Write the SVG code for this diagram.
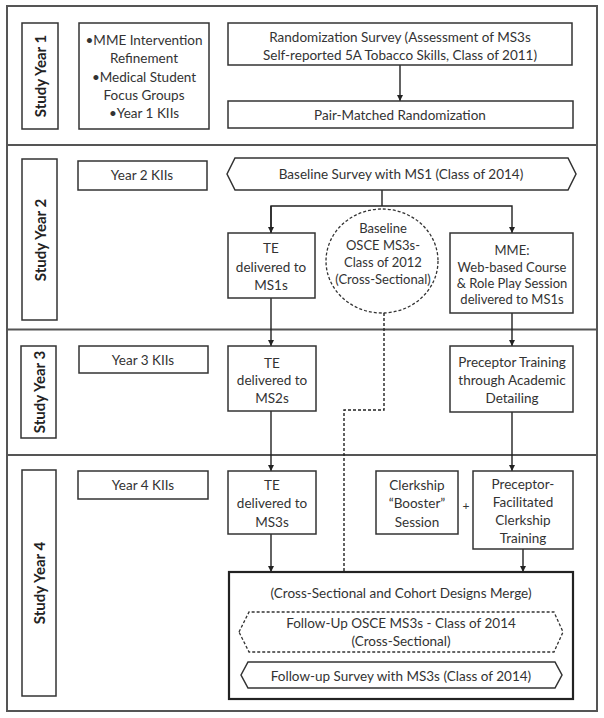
<svg xmlns="http://www.w3.org/2000/svg" width="604" height="718" viewBox="0 0 604 718">
<defs>
<marker id="ah" viewBox="0 0 10 10" refX="10" refY="5" markerWidth="6" markerHeight="6" orient="auto" markerUnits="userSpaceOnUse">
<path d="M0,0 L10,5 L0,10 z" fill="#222"/>
</marker>
<style>
.frame{fill:none;stroke:#555;stroke-width:2}
.div{stroke:#555;stroke-width:2}
.box{fill:#fff;stroke:#333;stroke-width:1.5}
.dbox{fill:#fff;stroke:#333;stroke-width:1.3;stroke-dasharray:3,2}
.merge{fill:#fff;stroke:#222;stroke-width:2.2}
.t{font-family:Lato,"Open Sans","Liberation Sans",sans-serif;font-size:13.5px;fill:#333;text-anchor:middle;dominant-baseline:central}
.s{font-size:13px}
.lab{font-family:Lato,"Open Sans","Liberation Sans",sans-serif;font-size:15px;font-weight:bold;fill:#222;text-anchor:middle;dominant-baseline:central}
.c{fill:none;stroke:#222;stroke-width:1.4}
.cd{fill:none;stroke:#222;stroke-width:1.4;stroke-dasharray:3,2}
</style>
</defs>
<rect class="frame" x="7" y="6" width="590" height="705"/>
<line class="div" x1="7" y1="145" x2="597" y2="145"/>
<line class="div" x1="7" y1="329.5" x2="597" y2="329.5"/>
<line class="div" x1="7" y1="455" x2="597" y2="455"/>

<g id="connectors">
<line class="c" x1="400" y1="65" x2="400" y2="101" marker-end="url(#ah)"/>
<polyline class="c" points="382,190 382,206"/>
<polyline class="c" points="271,233 271,206 512,206 512,233" marker-end="url(#ah)"/>
<line class="c" x1="271" y1="206" x2="271" y2="233" marker-end="url(#ah)"/>
<line class="c" x1="271" y1="298" x2="271" y2="346" marker-end="url(#ah)"/>
<line class="c" x1="271" y1="411" x2="271" y2="471" marker-end="url(#ah)"/>
<line class="c" x1="271" y1="534" x2="271" y2="572" marker-end="url(#ah)"/>
<line class="c" x1="512" y1="313" x2="512" y2="346" marker-end="url(#ah)"/>
<line class="c" x1="512" y1="412" x2="512" y2="471" marker-end="url(#ah)"/>
<line class="c" x1="523" y1="549" x2="523" y2="572" marker-end="url(#ah)"/>
<polyline class="cd" points="384,313 384,410 344,410 344,572"/>
</g>

<g id="year1-label"><rect class="box" x="22" y="23" width="36" height="106"/><text class="lab" transform="translate(40,76) rotate(-90)">Study Year 1</text></g>
<g id="year1-bullets"><rect class="box" x="79" y="23" width="130" height="106"/>
<text class="t" x="144" y="40">•MME Intervention</text>
<text class="t" x="144" y="58">Refinement</text>
<text class="t" x="144" y="77">•Medical Student</text>
<text class="t" x="144" y="95">Focus Groups</text>
<text class="t" x="144" y="113">•Year 1 KIIs</text></g>
<g id="rand-survey"><rect class="box" x="228" y="23" width="344" height="42"/>
<text class="t" x="400" y="37">Randomization Survey (Assessment of MS3s</text>
<text class="t" x="400" y="55">Self-reported 5A Tobacco Skills, Class of 2011)</text></g>
<g id="pair-matched"><rect class="box" x="228" y="101" width="345" height="27"/>
<text class="t" x="400" y="115">Pair-Matched Randomization</text></g>

<g id="year2-label"><rect class="box" x="22" y="159" width="35" height="161"/><text class="lab" transform="translate(39.5,240) rotate(-90)">Study Year 2</text></g>
<g id="year2-kii"><rect class="box" x="78" y="161" width="129" height="29"/><text class="t" x="142" y="175">Year 2 KIIs</text></g>
<g id="baseline-survey"><polygon class="box" points="227,174 235,158 568,158 576,174 568,190 235,190"/>
<text class="t" x="401" y="174">Baseline Survey with MS1 (Class of 2014)</text></g>
<g id="te-ms1"><rect class="box" x="228" y="233" width="87" height="65"/>
<text class="t" x="271" y="248">TE</text><text class="t" x="271" y="267">delivered to</text><text class="t" x="271" y="285">MS1s</text></g>
<g id="baseline-osce"><ellipse class="dbox" cx="382" cy="261" rx="56" ry="52"/>
<text class="t s" x="383" y="228">Baseline</text><text class="t s" x="383" y="245">OSCE MS3s-</text><text class="t s" x="383" y="262">Class of 2012</text><text class="t s" x="383" y="279">(Cross-Sectional)</text></g>
<g id="mme"><rect class="box" x="450" y="233" width="123" height="80"/>
<text class="t s" x="512" y="250">MME:</text><text class="t s" x="512" y="267">Web-based Course</text><text class="t s" x="512" y="283">&amp; Role Play Session</text><text class="t s" x="512" y="299">delivered to MS1s</text></g>

<g id="year3-label"><rect class="box" x="21" y="346" width="35" height="92"/><text class="lab" transform="translate(38.5,392) rotate(-90)">Study Year 3</text></g>
<g id="year3-kii"><rect class="box" x="79" y="346" width="129" height="27"/><text class="t" x="143" y="360">Year 3 KIIs</text></g>
<g id="te-ms2"><rect class="box" x="228" y="346" width="88" height="65"/>
<text class="t" x="272" y="363">TE</text><text class="t" x="272" y="380">delivered to</text><text class="t" x="272" y="398">MS2s</text></g>
<g id="preceptor-training"><rect class="box" x="450" y="346" width="123" height="66"/>
<text class="t" x="512" y="362">Preceptor Training</text><text class="t" x="512" y="380">through Academic</text><text class="t" x="512" y="398">Detailing</text></g>

<g id="year4-label"><rect class="box" x="22" y="470" width="34" height="226"/><text class="lab" transform="translate(39,583) rotate(-90)">Study Year 4</text></g>
<g id="year4-kii"><rect class="box" x="78" y="471" width="130" height="28"/><text class="t" x="143" y="485">Year 4 KIIs</text></g>
<g id="te-ms3"><rect class="box" x="228" y="471" width="88" height="63"/>
<text class="t" x="272" y="485">TE</text><text class="t" x="272" y="503">delivered to</text><text class="t" x="272" y="522">MS3s</text></g>
<g id="clerkship-booster"><rect class="box" x="376" y="471" width="82" height="63"/>
<text class="t" x="417" y="485">Clerkship</text><text class="t" x="417" y="503">“Booster”</text><text class="t" x="417" y="522">Session</text></g>
<g id="plus"><text class="t" x="466" y="505" style="font-size:12px">+</text></g>
<g id="preceptor-facilitated"><rect class="box" x="473" y="471" width="100" height="78"/>
<text class="t" x="523" y="484">Preceptor-</text><text class="t" x="523" y="502">Facilitated</text><text class="t" x="523" y="520">Clerkship</text><text class="t" x="523" y="538">Training</text></g>
<g id="merge"><rect class="merge" x="229" y="572" width="344" height="127"/>
<text class="t" x="401" y="593">(Cross-Sectional and Cohort Designs Merge)</text></g>
<g id="followup-osce"><polygon class="dbox" points="239,632 249,612 554,612 563,632 554,652 249,652"/>
<text class="t" x="401" y="623">Follow-Up OSCE MS3s - Class of 2014</text><text class="t" x="401" y="641">(Cross-Sectional)</text></g>
<g id="followup-survey"><polygon class="box" points="241,675 248,662 555,662 562,675 555,688 248,688"/>
<text class="t" x="401" y="676">Follow-up Survey with MS3s (Class of 2014)</text></g>
</svg>
